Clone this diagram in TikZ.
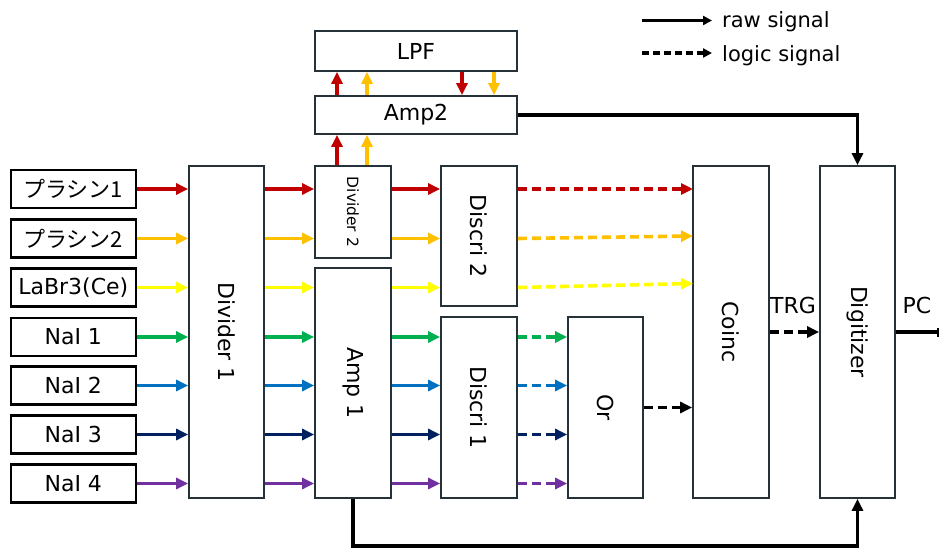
\documentclass[tikz,border=0pt]{standalone}
\usepackage{fontspec}
\setmainfont{DejaVu Sans}
\newfontfamily\jpfont{Noto Sans CJK JP}
\usetikzlibrary{arrows.meta}
\definecolor{cR}{HTML}{C00000}
\definecolor{cO}{HTML}{FFC000}
\definecolor{cY}{HTML}{FFFF00}
\definecolor{cG}{HTML}{00B050}
\definecolor{cB}{HTML}{0070C0}
\definecolor{cN}{HTML}{002060}
\definecolor{cP}{HTML}{7030A0}
\definecolor{edgec}{HTML}{263238}
\begin{document}
\begin{tikzpicture}[x=1pt,y=-1pt,
  every node/.style={font=\fontsize{22}{26}\selectfont, inner sep=0pt},
  src/.style={draw=black, line width=2.4pt, minimum width=125pt, minimum height=38pt},
  blk/.style={draw=edgec, line width=1.8pt, fill=white},
  lab/.style={rotate=-90},
  sig/.style={line width=3.6pt, -{Triangle[length=12pt,width=11pt]}},
  lgc/.style={sig, dash pattern=on 9pt off 5pt},
  legtip/.style={line width=3.4pt, -{Triangle[length=9pt,width=9pt]}},
]
\useasboundingbox (0,0) rectangle (940,548);

% sources
\node[src] (s1) at (73.3,189) {\jpfont プラシン1};
\node[src] (s2) at (73.3,238.5) {\jpfont プラシン2};
\node[src] (s3) at (73.3,287.5) {LaBr3(Ce)};
\node[src] (s4) at (73.3,337) {NaI 1};
\node[src] (s5) at (73.3,385.5) {NaI 2};
\node[src] (s6) at (73.3,434.5) {NaI 3};
\node[src] (s7) at (73.3,483.5) {NaI 4};

% blocks
\node[blk, minimum width=75pt, minimum height=332pt] (div1) at (226.5,332) {};
\node[lab] at (div1) {Divider 1};
\node[blk, minimum width=76pt, minimum height=92pt] (div2) at (353,212) {};
\node[lab, font=\fontsize{15.5}{18}\selectfont] at (div2) {Divider 2};
\node[blk, minimum width=76pt, minimum height=230pt] (amp1) at (353,383) {};
\node[lab] at (amp1) {Amp 1};
\node[blk, minimum width=76pt, minimum height=140pt] (dis2) at (479,236) {};
\node[lab] at (dis2) {Discri 2};
\node[blk, minimum width=76pt, minimum height=181pt] (dis1) at (479,407.5) {};
\node[lab] at (dis1) {Discri 1};
\node[blk, minimum width=75pt, minimum height=181pt] (orb) at (605.5,407.5) {};
\node[lab] at (orb) {Or};
\node[blk, minimum width=76pt, minimum height=332pt] (coinc) at (731,332) {};
\node[lab] at (coinc) {Coinc};
\node[blk, minimum width=75pt, minimum height=332pt] (digi) at (857.5,332) {};
\node[lab] at (digi) {Digitizer};
\node[blk, minimum width=202pt, minimum height=40pt] (lpf) at (416,51) {LPF};
\node[blk, minimum width=202pt, minimum height=38pt] (amp2) at (416,115) {Amp2};

\node (trg) at (793,305) {TRG};
\node (pc) at (917,305) {PC};

% source -> divider 1 -> divider2/amp1 -> discri
\foreach \s/\c in {s1/cR,s2/cO,s3/cY,s4/cG,s5/cB,s6/cN,s7/cP}{
  \draw[sig, \c] (\s.east) -- (div1.west |- \s.east);
}
\foreach \s/\c in {s1/cR,s2/cO}{
  \draw[sig, \c] (div1.east |- \s.east) -- (div2.west |- \s.east);
  \draw[sig, \c] (div2.east |- \s.east) -- (dis2.west |- \s.east);
}
\foreach \s/\c in {s3/cY,s4/cG,s5/cB,s6/cN,s7/cP}{
  \draw[sig, \c] (div1.east |- \s.east) -- (amp1.west |- \s.east);
}
\draw[sig, cY] (amp1.east |- s3.east) -- (dis2.west |- s3.east);
\foreach \s/\c in {s4/cG,s5/cB,s6/cN,s7/cP}{
  \draw[sig, \c] (amp1.east |- \s.east) -- (dis1.west |- \s.east);
  \draw[lgc, \c] (dis1.east |- \s.east) -- (orb.west |- \s.east);
}

% discri2 -> coinc
\coordinate (k1) at (693,189);
\coordinate (k2) at (693,236);
\coordinate (k3) at (693,283.5);
\draw[lgc, cR] (dis2.east |- s1.east) -- (k1);
\draw[lgc, cO] (dis2.east |- s2.east) -- (k2);
\draw[lgc, cY] (dis2.east |- s3.east) -- (k3);

% or -> coinc, coinc -> digitizer
\draw[lgc, black] (orb.east) -- (coinc.west |- orb.east);
\draw[lgc, black] (coinc.east) -- (digi.west);

% divider2 -> amp2 -> lpf -> amp2
\coordinate (xa) at (337,0);
\coordinate (xb) at (367,0);
\coordinate (xc) at (462,0);
\coordinate (xd) at (494,0);
\draw[sig, cR] (div2.north -| xa) -- (amp2.south -| xa);
\draw[sig, cO] (div2.north -| xb) -- (amp2.south -| xb);
\draw[sig, cR] (amp2.north -| xa) -- (lpf.south -| xa);
\draw[sig, cO] (amp2.north -| xb) -- (lpf.south -| xb);
\draw[sig, cR] (lpf.south -| xc) -- (amp2.north -| xc);
\draw[sig, cO] (lpf.south -| xd) -- (amp2.north -| xd);

% raw outputs to digitizer
\draw[sig, black] (amp2.east) -| (digi.north);
\coordinate (bot) at (353,546);
\draw[sig, black] (amp1.south) -- (amp1.south |- bot) -| (digi.south);
\coordinate (pcend) at (939,332);
\draw[line width=3.6pt, -{Bar[width=9pt,line width=2.4pt]}] (digi.east) -- (pcend);

% legend
\coordinate (la) at (642,20.5);
\coordinate (lb) at (712,20.5);
\coordinate (lc) at (642,53);
\coordinate (ld) at (712,53);
\draw[legtip] (la) -- (lb);
\draw[legtip, dash pattern=on 7pt off 4pt] (lc) -- (ld);
\node[anchor=base west, font=\fontsize{21}{24}\selectfont] (lraw) at (722,27.5) {raw signal};
\node[anchor=base west, font=\fontsize{21}{24}\selectfont] (llog) at (722,62) {logic signal};
\end{tikzpicture}
\end{document}
